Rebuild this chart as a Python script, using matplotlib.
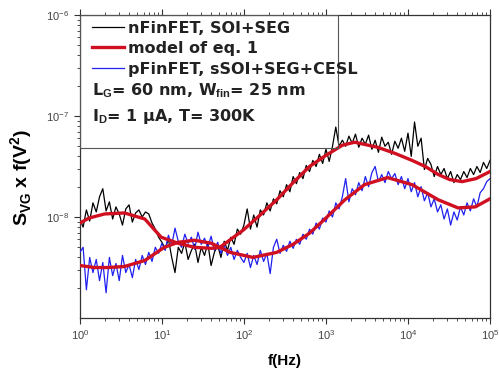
import numpy as np
import matplotlib
matplotlib.use("Agg")
import matplotlib.pyplot as plt
from matplotlib.patches import Rectangle
from matplotlib.ticker import LogLocator, NullFormatter, FixedLocator

plt.rcParams['font.family'] = ['Liberation Sans', 'DejaVu Sans']
plt.rcParams['mathtext.fontset'] = 'custom'
plt.rcParams['mathtext.rm'] = 'Liberation Sans'
plt.rcParams['mathtext.bf'] = 'Liberation Sans:bold'

# measurement frequency grid (25 points per decade), Hz
mult = [1.000, 1.096, 1.202, 1.318, 1.445, 1.585, 1.738, 1.905, 2.089, 2.291,
        2.512, 2.754, 3.020, 3.311, 3.631, 3.981, 4.365, 4.786, 5.248, 5.754,
        6.310, 6.918, 7.586, 8.318, 9.120]
freq = [m * 10 ** d for d in range(5) for m in mult] + [1e5]

# log10(S_VG x f), nFinFET SOI+SEG
n_log = [-8.02, -8.10, -7.93, -8.04, -7.86, -7.95, -7.80, -7.72, -7.94, -7.85,
         -8.02, -7.90, -7.97, -8.08, -7.92, -7.88, -8.05, -7.96, -7.93, -8.00,
         -7.95, -7.97, -8.06, -8.12, -8.20,
         -8.25, -8.31, -8.22, -8.40, -8.55, -8.30, -8.36, -8.25, -8.42, -8.33,
         -8.27, -8.45, -8.30, -8.38, -8.26, -8.48, -8.35, -8.28, -8.40, -8.24,
         -8.33, -8.20, -8.27, -8.12, -8.17,
         -8.08, -7.92, -8.12, -7.98, -8.10, -7.93, -7.98, -7.86, -7.94, -7.82,
         -7.87, -7.74, -7.80, -7.68, -7.75, -7.60, -7.67, -7.56, -7.62, -7.49,
         -7.55, -7.44, -7.50, -7.38, -7.47,
         -7.33, -7.45, -7.30, -7.11, -7.30, -7.24, -7.30, -7.20, -7.27, -7.18,
         -7.31, -7.22, -7.28, -7.19, -7.33, -7.24, -7.36, -7.21, -7.30, -7.26,
         -7.38, -7.25, -7.32, -7.22, -7.35,
         -7.17, -7.40, -7.06, -7.30, -7.22, -7.53, -7.42, -7.48, -7.60, -7.50,
         -7.58, -7.52, -7.62, -7.55, -7.66, -7.58, -7.63, -7.55, -7.61, -7.52,
         -7.58, -7.50, -7.56, -7.46, -7.52,
         -7.44]

# log10(S_VG x f), pFinFET sSOI+SEG+CESL
p_log = [-8.35, -8.30, -8.72, -8.40, -8.55, -8.42, -8.63, -8.45, -8.75, -8.40,
         -8.58, -8.46, -8.63, -8.38, -8.55, -8.47, -8.60, -8.42, -8.52, -8.38,
         -8.47, -8.35, -8.44, -8.30, -8.36,
         -8.26, -8.33, -8.18, -8.28, -8.11, -8.24, -8.30, -8.17, -8.26, -8.20,
         -8.32, -8.15, -8.27, -8.21, -8.30, -8.19, -8.33, -8.25, -8.36, -8.28,
         -8.38, -8.30, -8.42, -8.33, -8.40,
         -8.45, -8.36, -8.50, -8.38, -8.47, -8.33, -8.44, -8.36, -8.56, -8.30,
         -8.22, -8.36, -8.28, -8.34, -8.24, -8.31, -8.22, -8.27, -8.17, -8.22,
         -8.12, -8.17, -8.06, -8.12, -8.01,
         -8.05, -7.94, -8.00, -7.86, -7.92, -7.80, -7.62, -7.85, -7.72, -7.78,
         -7.66, -7.74, -7.60, -7.70, -7.56, -7.50, -7.65, -7.58, -7.66, -7.55,
         -7.62, -7.57, -7.68, -7.60, -7.72,
         -7.62, -7.75, -7.66, -7.80, -7.70, -7.84, -7.76, -7.90, -7.82, -7.95,
         -7.88, -8.02, -7.92, -8.08, -7.95, -8.03, -7.90, -7.98, -7.86, -7.94,
         -7.82, -7.90, -7.76, -7.72, -7.65,
         -7.62]

# model of eq. 1 (read points)
mn_f = [1, 1.3, 2.0, 3.5, 6.2, 9.8, 15.8, 25, 40, 51, 98, 158, 251, 398, 631,
        1000, 1585, 2239, 4266, 6918, 11220, 16218, 23442, 32359, 45709, 67608, 1e5]
mn_log = [-8.06, -8.01, -7.97, -7.96, -8.02, -8.20, -8.26, -8.30, -8.31, -8.30,
          -8.13, -7.98, -7.83, -7.66, -7.50, -7.39, -7.29, -7.26, -7.31, -7.37,
          -7.44, -7.50, -7.58, -7.63, -7.65, -7.62, -7.55]
mp_f = [1, 1.5, 2.2, 3.5, 6.2, 10.7, 15.8, 25, 40, 51, 68, 129, 251, 398, 631,
        1000, 1698, 2951, 5623, 11220, 23442, 40738, 66069, 1e5]
mp_log = [-8.48, -8.50, -8.50, -8.49, -8.43, -8.30, -8.25, -8.23, -8.26, -8.30,
          -8.35, -8.40, -8.35, -8.27, -8.16, -8.01, -7.83, -7.68, -7.61, -7.68,
          -7.83, -7.91, -7.90, -7.82]

S_n = 10.0 ** np.array(n_log)
S_p = 10.0 ** np.array(p_log)
M_n = 10.0 ** np.array(mn_log)
M_p = 10.0 ** np.array(mp_log)

fig = plt.figure(figsize=(4.99, 3.72), dpi=100)
ax = fig.add_axes([0.160, 0.145, 0.822, 0.815])

ax.plot(freq, S_n, color='black', lw=0.9, label='nFinFET, SOI+SEG', zorder=2)
ax.plot(freq, S_p, color='#2020f0', lw=0.9, label='pFinFET, sSOI+SEG+CESL', zorder=3)
ax.plot(mn_f, M_n, color='#d01020', lw=2.4, label='model of eq. 1', zorder=4)
ax.plot(mp_f, M_p, color='#d01020', lw=2.4, zorder=4)

ax.set_xscale('log')
ax.set_yscale('log')
ax.set_xlim(1, 1e5)
ax.set_ylim(1e-9, 1e-6)

ax.xaxis.set_major_locator(FixedLocator([1, 10, 100, 1e3, 1e4, 1e5]))
ax.set_xticklabels(['10$^{0}$', '10$^{1}$', '10$^{2}$', '10$^{3}$', '10$^{4}$', '10$^{5}$'])
ax.xaxis.set_minor_locator(LogLocator(base=10, subs=np.arange(2, 10)))
ax.xaxis.set_minor_formatter(NullFormatter())
ax.yaxis.set_major_locator(FixedLocator([1e-8, 1e-7, 1e-6]))
ax.set_yticklabels(['10$^{-8}$', '10$^{-7}$', '10$^{-6}$'])
ax.yaxis.set_minor_locator(LogLocator(base=10, subs=np.arange(2, 10)))
ax.yaxis.set_minor_formatter(NullFormatter())

ax.tick_params(which='both', direction='out', top=True, right=False,
               labelsize=8, labelcolor='#444444', color='#333333')
ax.tick_params(which='major', length=4, width=0.8)
ax.tick_params(which='minor', length=2.2, width=0.6)
for s in ax.spines.values():
    s.set_color('#333333')
    s.set_linewidth(0.9)

ax.set_xlabel('f(Hz)', fontsize=11, fontweight='bold')
ax.xaxis.set_label_coords(0.50, -0.12)
ax.set_ylabel('S$_{\\mathbf{VG}}$ x f(V$^{\\mathbf{2}}$)', fontsize=14, fontweight='bold')
ax.yaxis.set_label_coords(-0.11, 0.465)

# legend box frame
ax.add_patch(Rectangle((0, 0.561), 0.629, 0.439, transform=ax.transAxes,
                       fill=False, edgecolor='#555555', lw=0.8, zorder=5))

box_font = ['DejaVu Sans']
handles, labels = ax.get_legend_handles_labels()
order = [0, 2, 1]
leg = ax.legend([handles[i] for i in order], [labels[i] for i in order],
                loc='upper left', bbox_to_anchor=(0.029, 0.981), frameon=False,
                prop={'family': box_font, 'weight': 'bold', 'size': 11.5},
                handlelength=2.05, handletextpad=0.2, labelspacing=0.34,
                borderaxespad=0.0, borderpad=0.0)
leg.set_zorder(6)
for t in leg.get_texts():
    t.set_color('#222222')

ax.text(0.029, 0.735, 'L$_{\\mathbf{G}}$= 60 nm, W$_{\\mathbf{fin}}$= 25 nm',
        transform=ax.transAxes, family=box_font, fontsize=11.5, fontweight='bold',
        color='#222222', va='baseline')
ax.text(0.029, 0.651, 'I$_{\\mathbf{D}}$= 1 \u03bcA, T= 300K', transform=ax.transAxes,
        family=box_font, fontsize=11.5, fontweight='bold', color='#222222',
        va='baseline')

fig.savefig('out.png', dpi=100)
